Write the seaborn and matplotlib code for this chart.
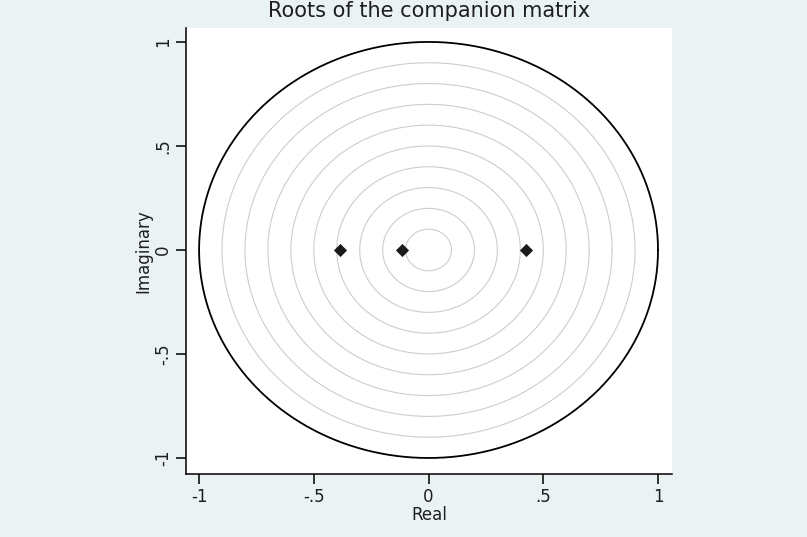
import numpy as np
import pandas as pd
import matplotlib
matplotlib.use("Agg")
import matplotlib.pyplot as plt
import seaborn as sns

# ---- data ----
grid_radii = [0.1, 0.2, 0.3, 0.4, 0.5, 0.6, 0.7, 0.8, 0.9]
unit_radius = [1.0]
root_real = [-0.385, -0.116, 0.426]
root_imag = [0.0, 0.0, 0.0]
x_ticks = [-1, -0.5, 0, 0.5, 1]
x_tick_labels = ["-1", "-.5", "0", ".5", "1"]
y_ticks = [-1, -0.5, 0, 0.5, 1]
y_tick_labels = ["-1", "-.5", "0", ".5", "1"]
title = "Roots of the companion matrix"
x_label = "Real"
y_label = "Imaginary"

sns.set_style("white")
plt.rcParams["font.family"] = ["DejaVu Sans"]
plt.rcParams["text.color"] = "#1e1e1e"
plt.rcParams["axes.labelcolor"] = "#1e1e1e"

fig = plt.figure(figsize=(8.07, 5.37), dpi=100)
fig.patch.set_facecolor("#EAF2F3")
ax = fig.add_axes([186 / 807, 1 - 474 / 537, (672 - 186) / 807, (474 - 28) / 537])
ax.set_facecolor("white")

theta = np.linspace(0, 2 * np.pi, 721)
rows = []
for r in grid_radii:
    for t in theta:
        rows.append({"x": r * np.cos(t), "y": r * np.sin(t), "r": r})
grid_df = pd.DataFrame(rows)
for r, sub in grid_df.groupby("r"):
    sns.lineplot(data=sub, x="x", y="y", sort=False, estimator=None,
                 color="#cdcdcd", linewidth=0.8, ax=ax)

unit_df = pd.DataFrame({"x": unit_radius[0] * np.cos(theta),
                        "y": unit_radius[0] * np.sin(theta)})
sns.lineplot(data=unit_df, x="x", y="y", sort=False, estimator=None,
             color="black", linewidth=1.3, ax=ax)
for line in ax.get_lines():
    line.set_solid_joinstyle("round")
    line.set_solid_capstyle("round")

roots_df = pd.DataFrame({"real": root_real, "imag": root_imag})
sns.scatterplot(data=roots_df, x="real", y="imag", marker="D", s=45,
                color="#1a1a1a", edgecolor="#1a1a1a", linewidth=0, ax=ax, zorder=5)

ax.set_xlim(-1.057, 1.061)
ax.set_ylim(-1.077, 1.067)
ax.set_xticks(x_ticks)
ax.set_xticklabels(x_tick_labels)
ax.set_yticks(y_ticks)
ax.set_yticklabels(y_tick_labels, rotation=90, va="center")

for s in ["top", "right"]:
    ax.spines[s].set_visible(False)
for s in ["left", "bottom"]:
    ax.spines[s].set_color("black")
    ax.spines[s].set_linewidth(1.1)

ax.tick_params(axis="both", direction="out", length=7, width=1.1, colors="black",
               labelcolor="#1e1e1e", labelsize=12, pad=3, left=True, bottom=True)
ax.set_xlabel(x_label, fontsize=12, labelpad=0)
ax.set_ylabel(y_label, fontsize=12, labelpad=1)
fig.text(0.5 * (186 + 672) / 807, 1 - 11 / 537, title, ha="center", va="center",
         fontsize=15)

fig.savefig("out.png", dpi=100, facecolor=fig.get_facecolor())
